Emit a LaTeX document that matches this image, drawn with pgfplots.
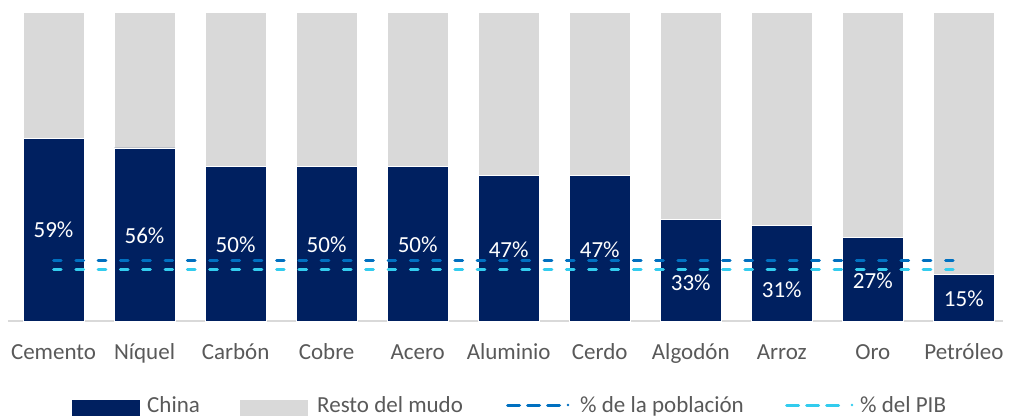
\documentclass[border=0pt]{standalone}
\usepackage{fontspec}
\setmainfont{Carlito}
\usepackage{pgfplots}
\usepackage{pgfplotstable}
\pgfplotsset{compat=1.18}
\definecolor{navy}{HTML}{002060}
\definecolor{lgray}{HTML}{D9D9D9}
\definecolor{pop}{HTML}{0070C0}
\definecolor{pib}{HTML}{33CCEE}
\definecolor{txt}{HTML}{595959}
% ly = height of the value label
\pgfplotstableread{
x china rest ly
0 59 41 29.5
1 56 44 27.5
2 50 50 24.8
3 50 50 24.8
4 50 50 24.8
5 47 53 23.2
6 47 53 23.2
7 33 67 12.3
8 31 69 10.0
9 27 73 12.9
10 15 85 7.2
}\datatable
\newcommand{\fs}{\fontsize{23}{26}\selectfont}
\begin{document}
\begin{tikzpicture}
\useasboundingbox (-8pt,-95pt) rectangle (1004pt,321pt);
\begin{axis}[
  at={(0,0)}, anchor=south west, scale only axis,
  width=995pt, height=309pt,
  xmin=-0.5, xmax=10.43, ymin=0, ymax=100,
  axis x line=bottom, axis y line=none,
  x axis line style={draw=lgray, line width=1.5pt, -},
  xtick={0,...,10}, major tick length=0pt,
  xticklabels={Cemento, Níquel, Carbón, Cobre, Acero, Aluminio, Cerdo, Algodón, Arroz, Oro, Petróleo},
  xticklabel style={font=\fs, text=txt, anchor=base, yshift=-38pt, inner sep=0pt},
  ytick=\empty,
  clip=false,
]
\addplot[ybar, bar shift=0pt, bar width=0.67, fill=lgray, draw=white, line width=0.6pt]
  table[x=x, y expr=\thisrow{china}+\thisrow{rest}] {\datatable};
\addplot[ybar, bar shift=0pt, bar width=0.67, fill=navy, draw=white, line width=0.6pt]
  table[x=x, y=china] {\datatable};
\addplot[pop, line width=3pt, dash pattern=on 7.7pt off 14.6pt, line cap=round]
  coordinates {(0,19.7) (10,19.7)};
\addplot[pib, line width=3pt, dash pattern=on 7.7pt off 14.6pt, line cap=round]
  coordinates {(0,16.7) (10,16.7)};
\addplot[only marks, mark=*, mark size=0pt, mark options={draw=none, fill=none},
  nodes near coords={\pgfmathprintnumber[assume math mode=true]{\pgfplotspointmeta}\%},
  point meta=explicit,
  every node near coord/.append style={anchor=center, text=white, font=\fs, inner sep=0pt}]
  table[x=x, y=ly, meta=china] {\datatable};
\end{axis}
\fill[navy] (64pt,-95pt) rectangle (132pt,-79pt);
\node[anchor=base west, text=txt, font=\fs, inner sep=0pt] at (139pt,-91pt) {China};
\fill[lgray] (232pt,-95pt) rectangle (300pt,-79pt);
\node[anchor=base west, text=txt, font=\fs, inner sep=0pt] at (309pt,-91pt) {Resto del mudo};
\draw[pop, line width=3pt, dash pattern=on 12pt off 8pt, line cap=round] (499.5pt,-84pt) -- (551.5pt,-84pt);
\fill[pop] (560pt,-84pt) circle (1.3pt);
\node[anchor=base west, text=txt, font=\fs, inner sep=0pt] at (572pt,-91pt) {\% de la población};
\draw[pib, line width=3pt, dash pattern=on 12pt off 8pt, line cap=round] (778.5pt,-84pt) -- (830.5pt,-84pt);
\fill[pib] (844pt,-84pt) circle (1.3pt);
\node[anchor=base west, text=txt, font=\fs, inner sep=0pt] at (852pt,-91pt) {\% del PIB};
\end{tikzpicture}
\end{document}
